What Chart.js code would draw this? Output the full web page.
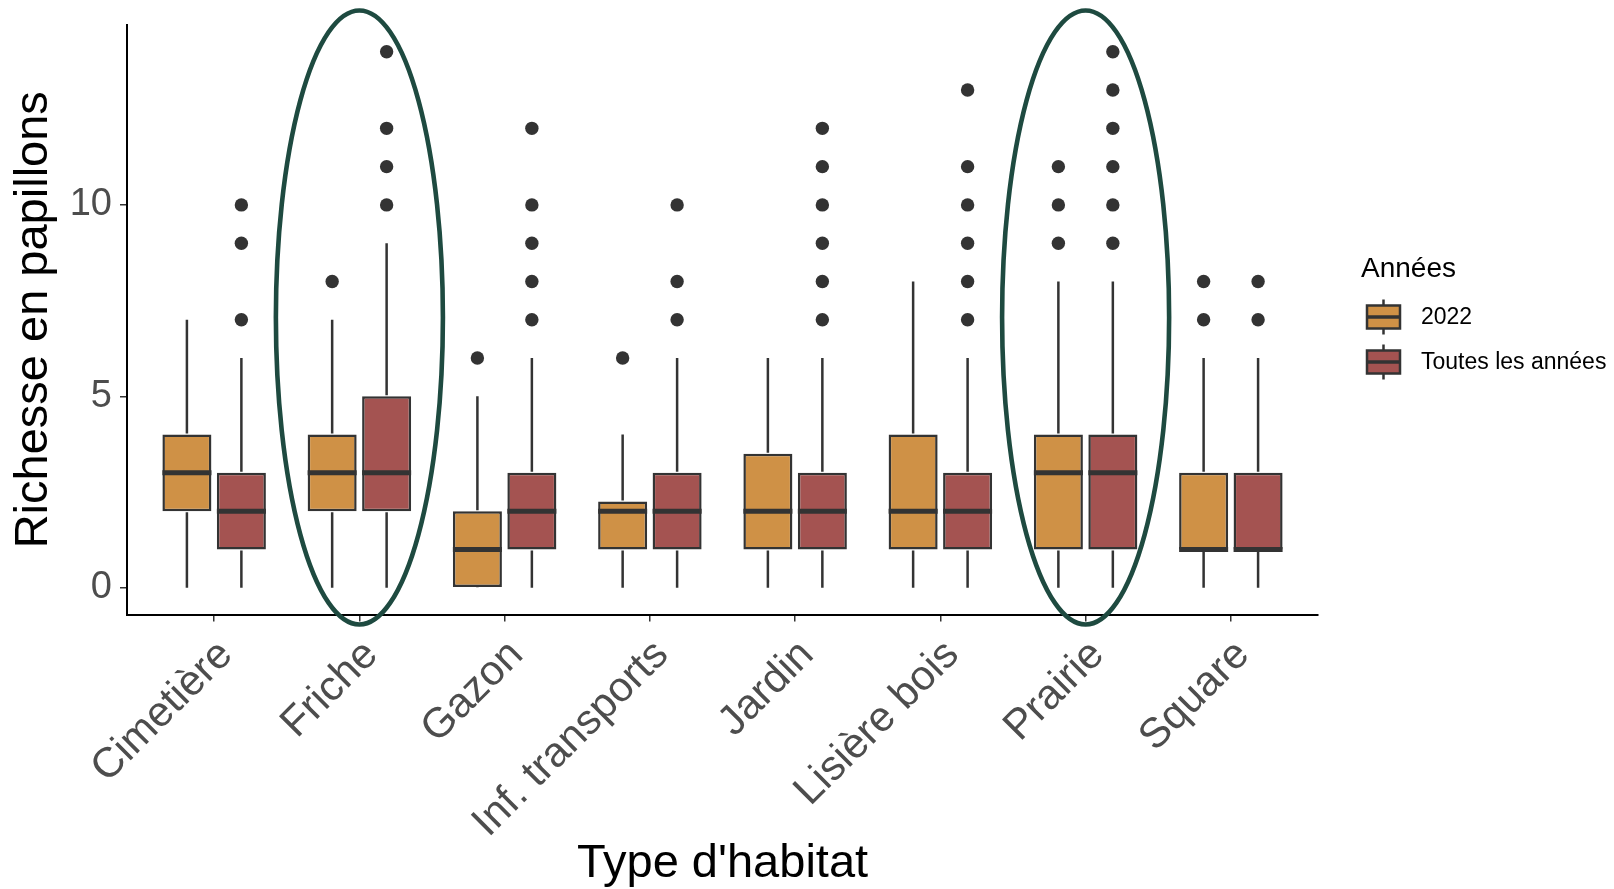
<!DOCTYPE html>
<html>
<head>
<meta charset="utf-8">
<script src="https://cdn.jsdelivr.net/npm/chart.js@4"></script>
<style>
  html, body { margin:0; padding:0; background:#fff; }
  #wrap { width:1614px; height:889px; }
</style>
</head>
<body>
<div id="wrap"><canvas id="boxChart" width="1614" height="889"></canvas></div>
<script>
// habitat boxplot - butterfly richness per habitat type
const categories = ['Cimetière','Friche','Gazon','Inf. transports','Jardin','Lisière bois','Prairie','Square'];
const seriesNames = ['2022','Toutes les années'];
const yTicks = [0,5,10];
const highlighted = ['Friche','Prairie'];

// 2022
const low2022  = [0,0,0,0,0,0,0,0];
const q1_2022  = [2,2,0,1,1,1,1,1];
const med2022  = [3,3,1,2,2,2,3,1];
const q3_2022  = [4,4,2,2.25,3.5,4,4,3];
const high2022 = [7,7,5,4,6,8,8,6];
const out2022  = [[],[8],[6],[6],[],[],[9,10,11],[7,8]];

// toutes les années
const lowAll  = [0,0,0,0,0,0,0,0];
const q1All   = [1,2,1,1,1,1,1,1];
const medAll  = [2,3,2,2,2,2,3,1];
const q3All   = [3,5,3,3,3,3,4,3];
const highAll = [6,9,6,6,6,6,8,6];
const outAll  = [[7,9,10],[10,11,12,14],[7,8,9,10,12],[7,8,10],[7,8,9,10,11,12],[7,8,9,10,11,13],[9,10,11,12,13,14],[7,8]];

const fills = ['#CF9146','#A45351'];
const ink = '#333333';
const FONT = '"Liberation Sans", Arial, sans-serif';

const stats = [
  { low: low2022, med: med2022, high: high2022, out: out2022 },
  { low: lowAll, med: medAll, high: highAll, out: outAll }
];

function boxData(q1, q3) {
  return categories.map((c, i) => ({ x: i + 1, y: [q1[i], q3[i]] }));
}

const boxPlugin = {
  id: 'boxExtras',
  afterDatasetsDraw(chart) {
    const ctx = chart.ctx, y = chart.scales.y;
    ctx.save();
    chart.data.datasets.forEach((ds, di) => {
      const meta = chart.getDatasetMeta(di);
      const s = stats[di];
      meta.data.forEach((bar, i) => {
        const cx = bar.x, half = bar.width / 2;
        const top = Math.min(bar.y, bar.base), bottom = Math.max(bar.y, bar.base);
        ctx.strokeStyle = ink;
        ctx.lineWidth = 2.5;
        ctx.beginPath();
        ctx.moveTo(cx, top - 1); ctx.lineTo(cx, y.getPixelForValue(s.high[i]));
        ctx.moveTo(cx, bottom + 1); ctx.lineTo(cx, y.getPixelForValue(s.low[i]));
        ctx.stroke();
        ctx.lineWidth = 5;
        const my = y.getPixelForValue(s.med[i]);
        ctx.beginPath();
        ctx.moveTo(cx - half, my); ctx.lineTo(cx + half, my);
        ctx.stroke();
        ctx.fillStyle = ink;
        s.out[i].forEach(v => {
          ctx.beginPath();
          ctx.arc(cx, y.getPixelForValue(v), 6.7, 0, Math.PI * 2);
          ctx.fill();
        });
      });
    });
    ctx.restore();
  },
  afterDraw(chart) {
    const ctx = chart.ctx, y = chart.scales.y, x = chart.scales.x;
    ctx.save();
    // highlight ellipses
    ctx.strokeStyle = '#1E4A40';
    ctx.lineWidth = 4.6;
    highlighted.forEach(name => {
      const v = categories.indexOf(name) + 1;
      const cx = x.getPixelForValue(v);
      const rx = x.getPixelForValue(v + 0.575) - cx;
      const cy = y.getPixelForValue(7.06);
      const ry = cy - y.getPixelForValue(7.06 + 8.02);
      ctx.beginPath();
      ctx.ellipse(cx, cy, rx, ry, 0, 0, Math.PI * 2);
      ctx.stroke();
    });
    // legend
    ctx.fillStyle = '#000';
    ctx.font = '28px ' + FONT;
    ctx.textBaseline = 'alphabetic';
    ctx.fillText('Années', 1361, 277);
    seriesNames.forEach((name, i) => {
      const ky = 317 + i * 45;
      ctx.strokeStyle = ink;
      ctx.lineWidth = 2.5;
      ctx.beginPath();
      ctx.moveTo(1383.5, ky - 17.5); ctx.lineTo(1383.5, ky + 17.5);
      ctx.stroke();
      ctx.fillStyle = fills[i];
      ctx.fillRect(1367, ky - 11.5, 33, 23);
      ctx.strokeRect(1367, ky - 11.5, 33, 23);
      ctx.lineWidth = 3.5;
      ctx.beginPath();
      ctx.moveTo(1367, ky); ctx.lineTo(1400, ky);
      ctx.stroke();
      ctx.fillStyle = '#000';
      ctx.font = '23px ' + FONT;
      ctx.textBaseline = 'middle';
      ctx.fillText(name, 1421, ky + 1);
    });
    ctx.restore();
  }
};

const ctx = document.getElementById('boxChart').getContext('2d');
new Chart(ctx, {
  type: 'bar',
  data: {
    datasets: seriesNames.map((n, i) => ({
      label: n,
      data: boxData(i === 0 ? q1_2022 : q1All, i === 0 ? q3_2022 : q3All),
      backgroundColor: fills[i],
      borderColor: ink,
      borderWidth: 2.5,
      borderSkipped: false,
      categoryPercentage: 0.75,
      barPercentage: 0.9
    }))
  },
  options: {
    responsive: false,
    animation: false,
    devicePixelRatio: 1,
    layout: { padding: { left: 0, right: 296, top: 25, bottom: 0 } },
    plugins: { legend: { display: false }, tooltip: { enabled: false } },
    scales: {
      x: {
        type: 'linear',
        offset: false,
        min: 0.4, max: 8.6,
        afterBuildTicks: s => { s.ticks = categories.map((c, i) => ({ value: i + 1 })); },
        afterFit: s => { s.height = 274.5; s.paddingLeft = 0; s.paddingRight = 0; },
        ticks: {
          callback: v => categories[v - 1],
          autoSkip: false, minRotation: 45, maxRotation: 45,
          color: '#4D4D4D', padding: 9, labelOffset: 12,
          font: { family: FONT, size: 42 }
        },
        grid: { display: true, offset: false, drawOnChartArea: false, drawTicks: true, tickLength: 7, color: ink, lineWidth: 1.5 },
        border: { display: true, color: '#000', width: 2 },
        title: {
          display: true, text: "Type d'habitat", color: '#000',
          font: { family: FONT, size: 47, lineHeight: 1.0 },
          padding: { top: 0, bottom: 1 }
        }
      },
      y: {
        min: -0.7, max: 14.7,
        afterBuildTicks: s => { s.ticks = yTicks.map(v => ({ value: v })); },
        afterFit: s => { s.width = 127; s.paddingTop = 0; s.paddingBottom = 0; },
        ticks: {
          color: '#4D4D4D', padding: 8,
          font: { family: FONT, size: 38 }
        },
        grid: { display: true, drawOnChartArea: false, drawTicks: true, tickLength: 7, color: ink, lineWidth: 1.5 },
        border: { display: true, color: '#000', width: 2 },
        title: {
          display: true, text: 'Richesse en papillons', color: '#000',
          font: { family: FONT, size: 47 },
          padding: { top: 5.5, bottom: 0 }
        }
      }
    }
  },
  plugins: [boxPlugin]
});
</script>
</body>
</html>
